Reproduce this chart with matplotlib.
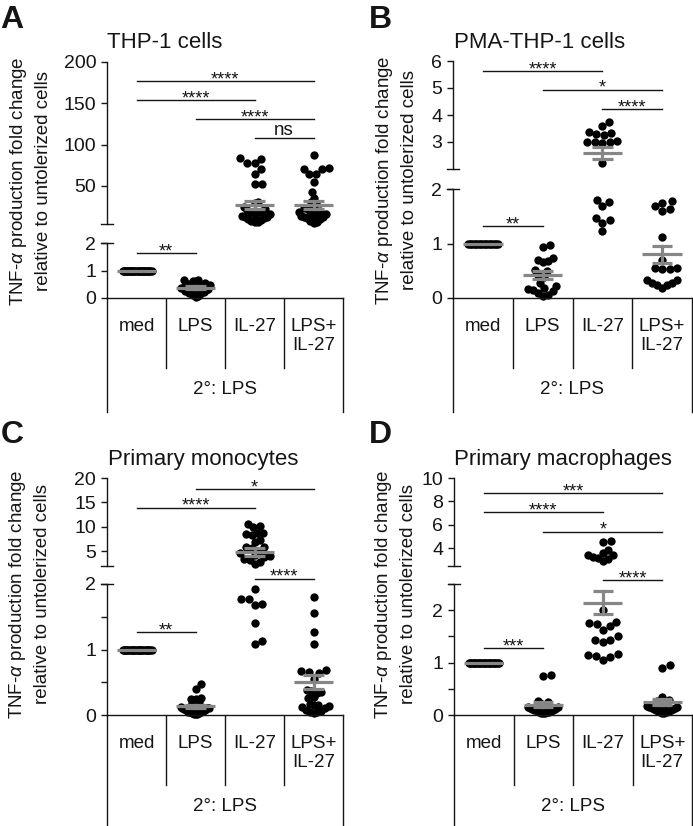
import numpy as np
import matplotlib.pyplot as plt
from matplotlib.lines import Line2D

plt.rcParams['font.family'] = ['Liberation Sans', 'DejaVu Sans']
plt.rcParams['mathtext.fontset'] = 'custom'
plt.rcParams['mathtext.rm'] = 'Liberation Sans'
plt.rcParams['mathtext.it'] = 'Liberation Sans:italic'

W, H = 693, 826
INK = '#151515'
GREY = '#868686'

groups = ['med', 'LPS', 'IL-27', 'LPS+\nIL-27']
ylab = 'TNF-$\\alpha$ production fold change\nrelative to untolerized cells'

# ---- A: THP-1 cells ----
a_med = [1.0] * 28
a_lps = [0.66, 0.64, 0.63, 0.61, 0.55, 0.52, 0.50, 0.48, 0.46, 0.44, 0.42, 0.40, 0.38, 0.37,
         0.35, 0.33, 0.31, 0.29, 0.27, 0.25, 0.23, 0.21, 0.19, 0.17, 0.14, 0.11, 0.08, 0.05]
a_il27 = [84, 83, 78, 78, 70, 65, 53, 52, 31, 30, 24, 22, 21, 20, 19, 18, 17, 16,
          15, 14, 13, 12, 11, 10, 9, 8, 7, 6]
a_combo = [87, 72, 71, 70, 65, 64, 55, 43, 36, 31, 30, 25, 23, 22, 20, 19, 18, 17,
           16, 15, 14, 13, 12, 11, 10, 8, 7, 5]
a_mean = [1.0, 0.38, 27.0, 27.0]
a_sem = [0.0, 0.05, 5.0, 5.0]

# ---- B: PMA-THP-1 cells ----
b_med = [1.0] * 19
b_lps = [0.97, 0.94, 0.73, 0.70, 0.67, 0.66, 0.52, 0.50, 0.42, 0.38, 0.27, 0.22, 0.18,
         0.16, 0.15, 0.12, 0.09, 0.06, 0.04]
b_il27 = [3.75, 3.59, 3.38, 3.34, 3.30, 3.27, 3.02, 3.01, 3.00, 2.99, 2.98, 2.21,
          1.79, 1.77, 1.69, 1.46, 1.44, 1.38, 1.23]
b_combo = [1.78, 1.75, 1.68, 1.64, 1.60, 1.12, 0.70, 0.55, 0.55, 0.54, 0.54, 0.33, 0.33,
           0.28, 0.28, 0.24, 0.24, 0.19]
b_mean = [1.0, 0.42, 2.58, 0.80]
b_sem = [0.0, 0.08, 0.22, 0.15]

# ---- C: primary monocytes ----
c_med = [1.0] * 26
c_lps = [0.48, 0.39, 0.26, 0.25, 0.24, 0.20, 0.19, 0.15, 0.14, 0.13, 0.12, 0.11, 0.10,
         0.10, 0.09, 0.08, 0.07, 0.06, 0.05, 0.05, 0.04, 0.03, 0.03, 0.02, 0.02, 0.01]
c_il27 = [10.5, 10.1, 10.0, 8.8, 8.7, 8.6, 8.4, 7.4, 7.0, 5.9, 5.8, 5.6, 5.0, 4.6, 4.2,
          4.0, 3.8, 3.5, 3.2, 2.9, 2.5, 1.93, 1.77, 1.77, 1.69, 1.68, 1.41, 1.13, 1.09]
c_combo = [1.80, 1.55, 1.26, 1.08, 0.68, 0.67, 0.65, 0.64, 0.55, 0.38, 0.36, 0.35, 0.34,
           0.28, 0.26, 0.17, 0.16, 0.15, 0.14, 0.12, 0.10, 0.08, 0.06, 0.05, 0.04, 0.03]
c_mean = [1.0, 0.13, 4.86, 0.50]
c_sem = [0.0, 0.03, 0.75, 0.11]

# ---- D: primary macrophages ----
d_med = [1.0] * 25
d_lps = [0.76, 0.74, 0.26, 0.24, 0.22, 0.20, 0.19, 0.17, 0.16, 0.15, 0.14, 0.13, 0.12,
         0.11, 0.10, 0.09, 0.09, 0.08, 0.07, 0.06, 0.05, 0.05, 0.04, 0.03, 0.03]
d_il27 = [4.63, 4.54, 3.83, 3.60, 3.46, 3.40, 3.25, 3.20, 3.12, 2.91,
          2.00, 1.78, 1.76, 1.74, 1.69, 1.63, 1.50, 1.44, 1.44, 1.40, 1.16, 1.14, 1.12, 1.11, 1.05]
d_combo = [0.96, 0.90, 0.34, 0.28, 0.26, 0.25, 0.23, 0.21, 0.20, 0.18, 0.17, 0.16, 0.15,
           0.14, 0.13, 0.12, 0.11, 0.10, 0.09, 0.08, 0.07, 0.06, 0.05, 0.04, 0.03]
d_mean = [1.0, 0.20, 2.14, 0.25]
d_sem = [0.0, 0.04, 0.22, 0.06]

# significance: (segment, group i, group j, bar height, label)
a_sig = [('up', 0, 3, 177, '****'), ('up', 0, 2, 154, '****'), ('up', 1, 3, 131, '****'),
         ('up', 2, 3, 108, 'ns'), ('lo', 0, 1, 1.63, '**')]
b_sig = [('up', 0, 2, 5.63, '****'), ('up', 1, 3, 4.93, '*'), ('up', 2, 3, 4.21, '****'),
         ('lo', 0, 1, 1.32, '**')]
c_sig = [('up', 1, 3, 17.7, '*'), ('up', 0, 2, 13.9, '****'), ('lo', 2, 3, 2.08, '****'),
         ('lo', 0, 1, 1.26, '**')]
d_sig = [('up', 0, 3, 8.69, '***'), ('up', 0, 2, 7.06, '****'), ('up', 1, 3, 5.43, '*'),
         ('lo', 2, 3, 2.57, '****'), ('lo', 0, 1, 1.27, '***')]

fig = plt.figure(figsize=(W / 100, H / 100), dpi=100)


def px_axes(x0, y0, x1, y1):
    return fig.add_axes([x0 / W, 1 - y1 / H, (x1 - x0) / W, (y1 - y0) / H])


def swarm(vals, ppu, d=8.0, maxw=15.0):
    # beeswarm in pixel space (lowest value first), then every clump of
    # touching dots is squeezed sideways to fit inside +-maxw
    y = np.asarray(vals, float) * ppu
    xs = np.zeros(len(y))
    done = []
    order = np.argsort(y, kind='stable')
    for i in order:
        cands = [0.0]
        for k in done:
            dy = abs(y[i] - y[k])
            if dy < d:
                dx = np.sqrt(d * d - dy * dy)
                cands += [xs[k] + dx, xs[k] - dx]
        cands.sort(key=abs)
        for c in cands:
            if all((c - xs[k]) ** 2 + (y[i] - y[k]) ** 2 >= d * d - 1e-6 for k in done):
                xs[i] = c
                break
        done.append(i)
    clump = [order[0]]
    for a, b in zip(order[:-1], order[1:]):
        if y[b] - y[a] > d:
            idx = np.array(clump)
            m = np.abs(xs[idx]).max()
            if m > maxw:
                xs[idx] *= maxw / m
            clump = []
        clump.append(b)
    idx = np.array(clump)
    m = np.abs(xs[idx]).max()
    if m > maxw:
        xs[idx] *= maxw / m
    return xs


def break_mark(x0, ypx):
    fig.add_artist(Line2D([(x0 - 6) / W, (x0 + 6) / W], [1 - ypx / H] * 2,
                          transform=fig.transFigure, color=INK, lw=1.0))


def panel(letter, title, lay, data, means, sems, sigs, up_ticks, lo_ticks, lo_labels):
    x0, x1 = lay['x']
    (u0, u1), (l0, l1) = lay['up'], lay['lo']
    ax_up = px_axes(x0, u0, x1, u1)
    ax_lo = px_axes(x0, l0, x1, l1)
    ax_up.set_ylim(*lay['up_lim'])
    ax_lo.set_ylim(*lay['lo_lim'])
    for ax in (ax_up, ax_lo):
        ax.set_xlim(-0.5, 3.5)
        ax.patch.set_visible(False)
        for s in ('top', 'right'):
            ax.spines[s].set_visible(False)
        ax.spines['left'].set_linewidth(1.0)
        ax.spines['left'].set_color(INK)
        ax.tick_params(axis='y', length=6 * 0.72, width=1.0, color=INK,
                       labelsize=14, labelcolor=INK, pad=3.5)
        ax.set_xticks([])
    ax_up.spines['bottom'].set_visible(False)
    ax_lo.spines['bottom'].set_linewidth(1.0)
    ax_lo.spines['bottom'].set_color(INK)
    ax_up.set_yticks(up_ticks)
    ax_lo.set_yticks(lo_ticks)
    ax_lo.set_yticklabels(lo_labels)
    break_mark(x0, u1)
    break_mark(x0, l0)

    col_px = (x1 - x0) / 4.0
    split = lay['lo_lim'][1]
    for ax, (p0, p1), lim, keep in ((ax_up, (u0, u1), lay['up_lim'], lambda v: v > split),
                                    (ax_lo, (l0, l1), lay['lo_lim'], lambda v: v <= split)):
        ppu = (p1 - p0) / (lim[1] - lim[0])
        for i, vals in enumerate(data):
            sel = np.array([v for v in vals if keep(v)], float)
            if len(sel) == 0:
                continue
            xo = swarm(sel, ppu)
            ax.scatter(i + xo / col_px, sel, s=36, color='black', linewidths=0,
                       zorder=2, clip_on=False)
        for i, (m, e) in enumerate(zip(means, sems)):
            ax.plot([i - 0.33, i + 0.33], [m, m], color=GREY, lw=2.3, zorder=3,
                    solid_capstyle='butt')
            if e > 0:
                ax.plot([i, i], [m - e, m + e], color=GREY, lw=2.3, zorder=3)
                for yy in (m - e, m + e):
                    ax.plot([i - 0.17, i + 0.17], [yy, yy], color=GREY, lw=2.3,
                            zorder=3, solid_capstyle='butt')

    for seg, i, j, h, lab in sigs:
        ax = ax_up if seg == 'up' else ax_lo
        ax.plot([i, j], [h, h], color=INK, lw=1.0, clip_on=False)
        off = 2.2 if lab == 'ns' else -2.2
        ax.annotate(lab, xy=((i + j) / 2, h), xytext=(0, off), textcoords='offset points',
                    ha='center', va='baseline', fontsize=13.5 if lab == 'ns' else 13,
                    color=INK, annotation_clip=False)

    # category table under the axis
    t_end = lay['end']
    ax_t = px_axes(x0, l1, x1, t_end)
    ax_t.set_xlim(-0.5, 3.5)
    ax_t.set_ylim(t_end - l1, 0)
    ax_t.patch.set_visible(False)
    ax_t.set_xticks([])
    ax_t.set_yticks([])
    for s in ('top', 'bottom'):
        ax_t.spines[s].set_visible(False)
    for s in ('left', 'right'):
        ax_t.spines[s].set_linewidth(1.0)
        ax_t.spines[s].set_color(INK)
    for b in (0.5, 1.5, 2.5):
        ax_t.plot([b, b], [0, 70], color=INK, lw=1.0)
    for i, g in enumerate(groups):
        ax_t.text(i, 20, g, ha='center', va='top', fontsize=13.5, color=INK,
                  linespacing=1.15)
    ax_t.text(1.5, 83, '2°: LPS', ha='center', va='top', fontsize=13.5, color=INK)

    lx, ly = lay['letter']
    fig.text(lx / W, 1 - ly / H, letter, ha='left', va='top', fontsize=23,
             fontweight='bold', color=INK)
    tx, ty = lay['title']
    fig.text(tx / W, 1 - ty / H, title, ha='center', va='baseline', fontsize=16, color=INK)
    yx, yy = lay['ylab']
    fig.text(yx / W, 1 - yy / H, ylab, ha='center', va='center', rotation=90,
             fontsize=13.5, color=INK, linespacing=1.45)


panel('A', 'THP-1 cells',
      dict(x=(107, 343), up=(62, 224), lo=(243, 298), end=412, up_lim=(4, 200), lo_lim=(0, 2),
           letter=(0, 5), title=(165, 48), ylab=(30, 181)),
      [a_med, a_lps, a_il27, a_combo], a_mean, a_sem, a_sig,
      [50, 100, 150, 200], [0, 1, 2], ['0', '1', '2'])

panel('B', 'PMA-THP-1 cells',
      dict(x=(453, 692), up=(61, 169), lo=(189, 298), end=412, up_lim=(2, 6), lo_lim=(0, 2),
           letter=(369, 5), title=(540, 48), ylab=(396, 180)),
      [b_med, b_lps, b_il27, b_combo], b_mean, b_sem, b_sig,
      [3, 4, 5, 6], [0, 1, 2], ['0', '1', '2'])

panel('C', 'Primary monocytes',
      dict(x=(107, 343), up=(478, 566), lo=(584, 715), end=826, up_lim=(2, 20), lo_lim=(0, 2),
           letter=(1, 420), title=(203, 465), ylab=(29, 594)),
      [c_med, c_lps, c_il27, c_combo], c_mean, c_sem, c_sig,
      [5, 10, 15, 20], [0, 0.5, 1, 1.5, 2], ['0', '', '1', '', '2'])

panel('D', 'Primary macrophages',
      dict(x=(454, 692), up=(478, 566), lo=(584, 715), end=826, up_lim=(2.5, 10), lo_lim=(0, 2.5),
           letter=(369, 420), title=(563, 465), ylab=(395, 594)),
      [d_med, d_lps, d_il27, d_combo], d_mean, d_sem, d_sig,
      [4, 6, 8, 10], [0, 0.5, 1, 1.5, 2, 2.5], ['0', '', '1', '', '2', ''])

fig.savefig('out.png', dpi=100)
